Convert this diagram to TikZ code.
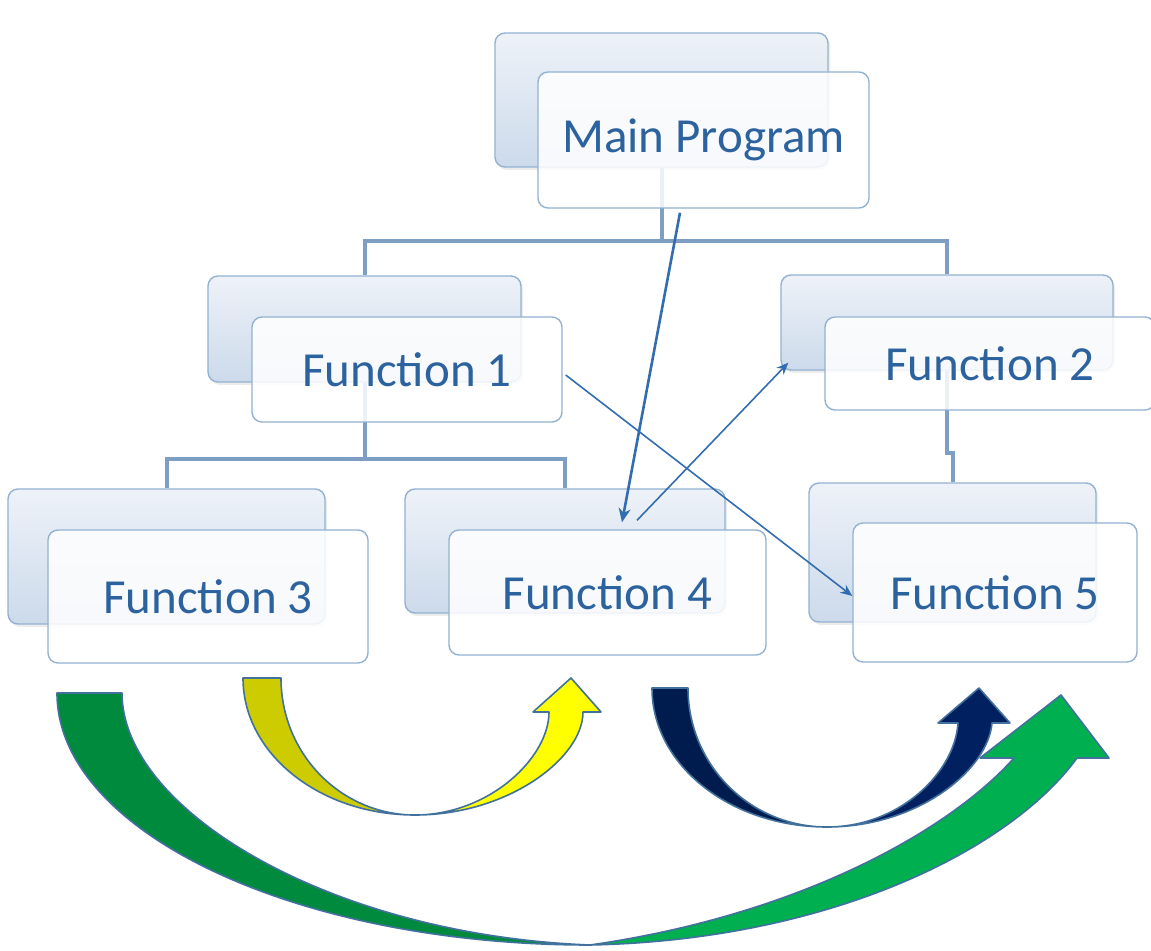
\documentclass[tikz,border=0pt]{standalone}
\usepackage{fontspec}
\setmainfont{Carlito}
\usetikzlibrary{arrows.meta, positioning, shadows}
\definecolor{bxLine}   {RGB}{147,178,210}
\definecolor{bxTop}    {RGB}{238,242,248}
\definecolor{bxBot}    {RGB}{204,218,235}
\definecolor{txBlue}   {RGB}{44,98,158}
\definecolor{treeBlue} {RGB}{126,158,196}
\definecolor{arrBlue}  {RGB}{50,110,175}
\definecolor{edgeBlue} {RGB}{65,113,156}
\definecolor{dkYellow} {RGB}{204,204,0}
\definecolor{ltYellow} {RGB}{255,255,0}
\definecolor{dkNavy}   {RGB}{0,27,77}
\definecolor{ltNavy}   {RGB}{0,32,96}
\definecolor{dkGreen}  {RGB}{0,138,62}
\definecolor{ltGreen}  {RGB}{0,176,80}

\begin{document}
\begin{tikzpicture}[x=0.5pt, y=-0.5pt,
    BACK/.style={draw=bxLine, line width=0.7pt, rounded corners=5pt, top color=bxTop, bottom color=bxBot, drop shadow={opacity=0.15, shadow xshift=1pt, shadow yshift=-1.5pt}},
    FRONT/.style={draw=bxLine, line width=0.7pt, rounded corners=5pt, fill=white, fill opacity=0.85, text opacity=1, text=txBlue, font=\fontsize{24.5}{29}\selectfont},
    TREE/.style={treeBlue, line width=2pt},
    ARR/.style={-{Stealth[length=6pt,width=5pt]}, arrBlue, line width=0.8pt},
    BEND/.style={draw=edgeBlue, line width=0.8pt, line join=round}]
    \useasboundingbox[fill=white] (0,0) rectangle (1151,951);
    \node[BACK, minimum width=166.5pt, minimum height=67pt] (mainB) at (661.5,100) {};
    \node[BACK, minimum width=156.5pt, minimum height=53pt] (f1B) at (364.5,329) {};
    \node[BACK, minimum width=166pt, minimum height=47.5pt] (f2B) at (947,322.5) {};
    \node[BACK, minimum width=158.5pt, minimum height=67.5pt] (f3B) at (166.5,556.5) {};
    \node[BACK, minimum width=160pt, minimum height=62pt] (f4B) at (565,551) {};
    \node[BACK, minimum width=143.5pt, minimum height=69.5pt] (f5B) at (952.5,552.5) {};
    \draw[TREE] (mainB.south) -- ++(0,73) -| (f1B.north);
    \draw[TREE] (mainB.south) -- ++(0,73) -| (f2B.north);
    \draw[TREE] (f1B.south) -- ++(0,76) -| (f3B.north);
    \draw[TREE] (f1B.south) -- ++(0,76) -| (f4B.north);
    \draw[TREE] (f2B.south) -- ++(0,82) -| (f5B.north);
    \node[FRONT, minimum width=165.5pt, minimum height=68pt] (mainF) at ([shift={(42,40)}]mainB) {Main Program};
    \node[FRONT, minimum width=155pt, minimum height=52.5pt] (f1F) at ([shift={(42.5,40.5)}]f1B) {Function 1};
    \node[FRONT, minimum width=165pt, minimum height=46.5pt] (f2F) at ([shift={(43,41)}]f2B) {Function 2};
    \node[FRONT, minimum width=160pt, minimum height=66.5pt] (f3F) at ([shift={(41.5,40)}]f3B) {Function 3};
    \node[FRONT, minimum width=158.5pt, minimum height=62.5pt] (f4F) at ([shift={(42.5,41.5)}]f4B) {Function 4};
    \node[FRONT, minimum width=142pt, minimum height=69.5pt] (f5F) at ([shift={(42.5,40)}]f5B) {Function 5};
    \draw[BEND, fill=dkGreen] (57,693) -- (122,693) .. controls (122,810) and (330,935) .. (590,945) .. controls (296,945) and (57,832) .. cycle;
    \draw[BEND, fill=ltGreen] (590,945) .. controls (830,940) and (1010,850) .. (1077,758) -- (1109,758) -- (1061,695) -- (980,758) -- (1014,758) .. controls (950,830) and (800,915) .. cycle;
    \draw[BEND, fill=dkYellow] (243,678) -- (281,678) .. controls (281,754) and (341,815) .. (415,815) .. controls (320,815) and (243,754) .. cycle;
    \draw[BEND, fill=ltYellow] (415,815) .. controls (508,815) and (583,758) .. (583,712) -- (601,712) -- (571,678) -- (533,712) -- (549,712) .. controls (549,758) and (489,815) .. cycle;
    \draw[BEND, fill=dkNavy] (652,688) -- (688,688) .. controls (688,765) and (750,827) .. (827,827) .. controls (730,827) and (652,765) .. cycle;
    \draw[BEND, fill=ltNavy] (827,827) .. controls (918,827) and (988,770) .. (992,723) -- (1010,723) -- (979,688) -- (938,723) -- (958,723) .. controls (955,772) and (900,827) .. cycle;
    \draw[ARR, line width=1.3pt, -{Stealth[length=7pt,width=6pt]}] ([shift={(-23.5,4)}]mainF.south) -- ([shift={(14.5,-7)}]f4F.north);
    \draw[ARR] ([shift={(29.5,-9)}]f4F.north) -- ([shift={(8,-8)}]f2B.south west);
    \draw[ARR] ([shift={(3,5.5)}]f1F.east) -- ([shift={(0,3.5)}]f5F.west);
\end{tikzpicture}
\end{document}
